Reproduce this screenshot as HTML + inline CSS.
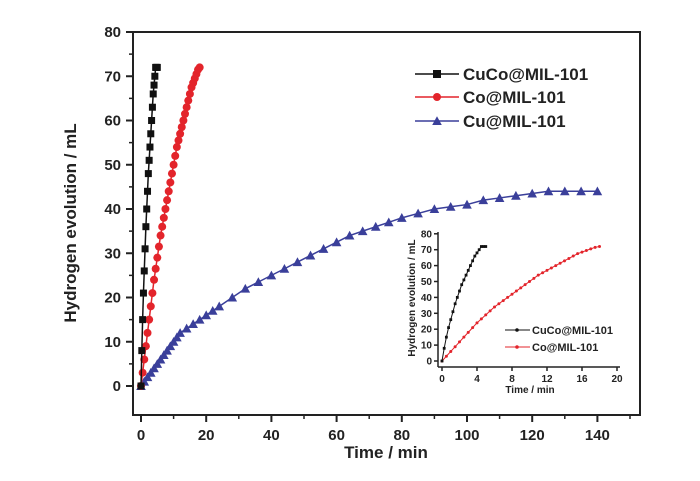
<!DOCTYPE html>
<html><head><meta charset="utf-8"><style>
html,body{margin:0;padding:0;background:#fff;}
svg{display:block;font-family:"Liberation Sans",Arial,sans-serif;}
</style></head><body>
<svg id="chart" width="700" height="481" viewBox="0 0 700 481"></svg>
<script>
const cucoT=[0,0.25,0.5,0.75,1,1.25,1.5,1.75,2,2.25,2.5,2.75,3,3.25,3.5,3.75,4,4.25,4.5,4.75,5];
const cucoV=[0,8,15,21,26,31,36,40,44,48,51,54,57,60,63,66,68,70,72,72,72];
const coT=[0,0.5,1,1.5,2,2.5,3,3.5,4,4.5,5,5.5,6,6.5,7,7.5,8,8.5,9,9.5,10,10.5,11,11.5,12,12.5,13,13.5,14,14.5,15,15.5,16,16.5,17,17.5,18];
const coV=[0,3,6,9,12,15,18,21,24,26.5,29,31.5,34,36,38,40,42,44,46,48,50,52,54,55.5,57,58.5,60,61.5,63,64.5,66,67.5,68.5,69.5,70.5,71.5,72];
const cuT=[0,1,2,3,4,5,6,7,8,9,10,11,12,14,16,18,20,22,24,28,32,36,40,44,48,52,56,60,64,68,72,76,80,85,90,95,100,105,110,115,120,125,130,135,140];
const cuV=[0,1,2,3,4,5,6,7,8,9,10,11,12,13,14,15,16,17,18,20,22,23.5,25,26.5,28,29.5,31,32.5,34,35,36,37,38,39,40,40.5,41,42,42.5,43,43.5,44,44,44,44];
const xTicks=[0,20,40,60,80,100,120,140];
const yTicks=[0,10,20,30,40,50,60,70,80];
const inXTicks=[0,4,8,12,16,20];
const inYTicks=[0,10,20,30,40,50,60,70,80];

const NS="http://www.w3.org/2000/svg";
const svg=document.getElementById('chart');
function el(tag,attrs,parent){const e=document.createElementNS(NS,tag);for(const k in attrs)e.setAttribute(k,attrs[k]);(parent||svg).appendChild(e);return e;}
const X=t=>141+t*3.26, Y=v=>386-v*4.425;
const IX=t=>442+t*8.75, IY=v=>361-v*1.59;

// frame
let f=el('rect',{x:133,y:32,width:507,height:383,fill:'none',stroke:'#222','stroke-width':2});


// x ticks
xTicks.forEach(t=>{
 let l=el('line',{x1:X(t),x2:X(t),y1:415,y2:422,stroke:'#222','stroke-width':2});
 
 
 let m=el('line',{x1:X(t+10),x2:X(t+10),y1:415,y2:419,stroke:'#222','stroke-width':1.5});
 
 
 let tx=el('text',{x:X(t),y:440,'text-anchor':'middle','font-size':15,'font-weight':'bold',fill:'#222'});
 tx.textContent=t;
 
 
});
yTicks.forEach(v=>{
 let l=el('line',{x1:126,x2:133,y1:Y(v),y2:Y(v),stroke:'#222','stroke-width':2});
 
 
 if(v<80){let m=el('line',{x1:129,x2:133,y1:Y(v+5),y2:Y(v+5),stroke:'#222','stroke-width':1.5});
 
 }
 let tx=el('text',{x:121,y:Y(v)+5,'text-anchor':'end','font-size':15,'font-weight':'bold',fill:'#222'});
 tx.textContent=v;
 
 
});
let xt=el('text',{x:386,y:458,'text-anchor':'middle','font-size':17,'font-weight':'bold',fill:'#222'});
xt.textContent='Time / min';


let yt=el('text',{x:0,y:0,'text-anchor':'middle','font-size':17,'font-weight':'bold',fill:'#222',transform:'translate(76,223) rotate(-90)'});
yt.textContent='Hydrogen evolution / mL';



function marker(type,x,y,color,s,parent){
 if(type==='sq')return el('rect',{x:x-s,y:y-s,width:2*s,height:2*s,fill:color},parent);
 if(type==='ci')return el('circle',{cx:x,cy:y,r:s,fill:color},parent);
 return el('polygon',{points:`${x},${y-s*1.2} ${x-s*1.2},${y+s} ${x+s*1.2},${y+s}`,fill:color},parent);
}
function series(T,V,fx,fy,color,type,s,name,lw){
 const g=el('g',{});
 
 
 el('polyline',{points:T.map((t,i)=>fx(t)+','+fy(V[i])).join(' '),fill:'none',stroke:color,'stroke-width':lw},g);
 T.forEach((t,i)=>{const m=marker(type,fx(t),fy(V[i]),color,s,g);
  
  });
}
series(cuT,cuV,X,Y,'#3a3f9a','tri',4,'series-cu',1.5);
series(coT,coV,X,Y,'#e3242b','ci',4,'series-co',1.5);
series(cucoT,cucoV,X,Y,'#111','sq',3.5,'series-cuco',1.5);

// legend
[['CuCo@MIL-101','#111','sq',74],['Co@MIL-101','#e3242b','ci',97],['Cu@MIL-101','#3a3f9a','tri',121]].forEach(([n,c,t,y])=>{
 const g=el('g',{});
 
 
 el('line',{x1:415,x2:459,y1:y,y2:y,stroke:c,'stroke-width':1.5},g);
 marker(t,437,y,c,4,g);
 const tx=el('text',{x:463,y:y+6,'font-size':17,'font-weight':'bold',fill:'#222'},g);
 tx.textContent=n;
});

// inset
const ig=el('g',{});


el('line',{x1:438,x2:438,y1:232,y2:367,stroke:'#222','stroke-width':1.5},ig);
el('line',{x1:438,x2:620,y1:367,y2:367,stroke:'#222','stroke-width':1.5},ig);
inXTicks.forEach(t=>{
 el('line',{x1:IX(t),x2:IX(t),y1:367,y2:371,stroke:'#222','stroke-width':1.5},ig);
 const tx=el('text',{x:IX(t),y:382,'text-anchor':'middle','font-size':10,'font-weight':'bold',fill:'#222'},ig);
 tx.textContent=t;
});
inYTicks.forEach(v=>{
 el('line',{x1:434,x2:438,y1:IY(v),y2:IY(v),stroke:'#222','stroke-width':1.5},ig);
 const tx=el('text',{x:432,y:IY(v)+3.5,'text-anchor':'end','font-size':10,'font-weight':'bold',fill:'#222'},ig);
 tx.textContent=v;
});
let ixt=el('text',{x:530,y:393,'text-anchor':'middle','font-size':10,'font-weight':'bold',fill:'#222'},ig);
ixt.textContent='Time / min';
let iyt=el('text',{x:0,y:0,'text-anchor':'middle','font-size':10,'font-weight':'bold',fill:'#222',transform:'translate(415,298) rotate(-90)'},ig);
iyt.textContent='Hydrogen evolution / mL';
series(coT,coV,IX,IY,'#e3242b','ci',1.5,'inset-series-co',1);
series(cucoT,cucoV,IX,IY,'#111','sq',1.4,'inset-series-cuco',1);
[['CuCo@MIL-101','#111',330],['Co@MIL-101','#e3242b',347]].forEach(([n,c,y])=>{
 const g=el('g',{},ig);
 
 
 el('line',{x1:505,x2:530,y1:y,y2:y,stroke:c,'stroke-width':1},g);
 el('circle',{cx:517,cy:y,r:1.8,fill:c},g);
 const tx=el('text',{x:532,y:y+4,'font-size':11,'font-weight':'bold',fill:'#222'},g);
 tx.textContent=n;
});
</script>
</body></html>
